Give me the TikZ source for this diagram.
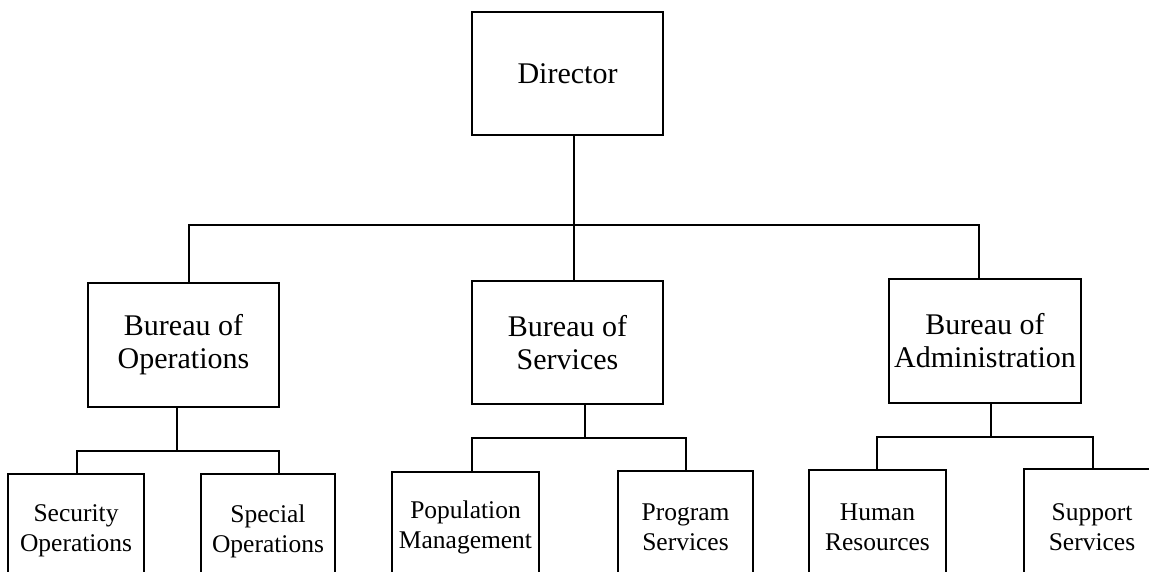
\documentclass[tikz,border=0pt]{standalone}
\usepackage{fontspec}
\setmainfont{Liberation Serif}
\begin{document}
\begin{tikzpicture}[x=1pt,y=-1pt,
  line width=1.5pt,
  boxbig/.style={draw, inner sep=0pt, align=center, font=\fontsize{30}{33}\selectfont},
  boxsmall/.style={draw, inner sep=0pt, align=center, font=\fontsize{25.5}{30}\selectfont},
  link/.style={draw, line width=1.5pt}]
\useasboundingbox (0,0) rectangle (1149,571);
\clip (0,0) rectangle (1149,571);
% top level
\node[boxbig, minimum width=191pt, minimum height=123pt] (dir) at (567.5,73.5) {Director};
% bureaus
\node[boxbig, minimum width=191pt, minimum height=124pt] (bo) at (183.5,345) {Bureau of\\Operations};
\node[boxbig, minimum width=191pt, minimum height=123pt] (bs) at (567.5,342.5) {Bureau of\\Services};
\node[boxbig, minimum width=192pt, minimum height=124pt] (ba) at (985,341) {Bureau of\\Administration};
% units
\node[boxsmall, minimum width=136pt, minimum height=114pt] (so) at (76,531) {Security\\Operations};
\node[boxsmall, minimum width=134pt, minimum height=114pt] (sp) at (268,531) {Special\\Operations};
\node[boxsmall, minimum width=147pt, minimum height=110pt] (pm) at (465.5,527) {Population\\Management};
\node[boxsmall, minimum width=135pt, minimum height=112pt] (ps) at (685.5,527) {Program\\Services};
\node[boxsmall, minimum width=137pt, minimum height=114pt] (hr) at (877.5,527) {Human\\Resources};
\node[boxsmall, minimum width=136pt, minimum height=116pt] (ss) at (1092,527) {Support\\Services};
% bus coordinates
\coordinate (t0) at (574,225);
\coordinate (tl) at (189,225);
\coordinate (tr) at (979,225);
\coordinate (o0) at (177,451);
\coordinate (ol) at (77,451);
\coordinate (or) at (279,451);
\coordinate (s0) at (585,438);
\coordinate (sl) at (472,438);
\coordinate (sr) at (686,438);
\coordinate (a0) at (991,437);
\coordinate (al) at (877,437);
\coordinate (ar) at (1093,437);
% connectors
\draw[link] (dir.south -| t0) -- (bs.north -| t0);
\draw[link] (bo.north -| tl) -- (tl) -- (tr) -- (ba.north -| tr);
\draw[link] (bo.south -| o0) -- (o0);
\draw[link] (so.north -| ol) -- (ol) -- (or) -- (sp.north -| or);
\draw[link] (bs.south -| s0) -- (s0);
\draw[link] (pm.north -| sl) -- (sl) -- (sr) -- (ps.north -| sr);
\draw[link] (ba.south -| a0) -- (a0);
\draw[link] (hr.north -| al) -- (al) -- (ar) -- (ss.north -| ar);
\end{tikzpicture}
\end{document}
